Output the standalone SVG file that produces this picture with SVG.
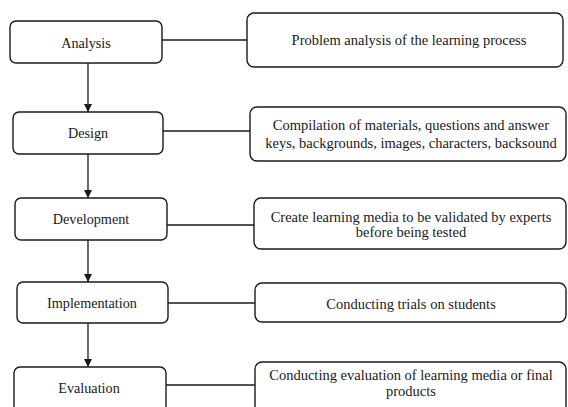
<svg xmlns="http://www.w3.org/2000/svg" width="568" height="407" viewBox="0 0 568 407">
<style>
.box{fill:#fff;stroke:#1a1a1a;stroke-width:1.4}
.ln{stroke:#1a1a1a;stroke-width:1.3;fill:none}
text{font-family:"Liberation Serif","Times New Roman",serif;font-size:14.5px;fill:#1a1a1a;text-anchor:middle}
text.lbl{font-size:14.2px}
</style>
<defs>
<marker id="ah" viewBox="0 0 10 10" refX="10" refY="5" markerWidth="8" markerHeight="8" markerUnits="userSpaceOnUse" orient="auto">
<path d="M0,0 L10,5 L0,10 Z" fill="#1a1a1a"/>
</marker>
</defs>
<g id="connectors">
<line class="ln" x1="88" y1="63" x2="88" y2="112" marker-end="url(#ah)"/>
<line class="ln" x1="88" y1="154" x2="88" y2="198" marker-end="url(#ah)"/>
<line class="ln" x1="88" y1="240" x2="88" y2="282" marker-end="url(#ah)"/>
<line class="ln" x1="88" y1="323" x2="88" y2="367" marker-end="url(#ah)"/>
<line class="ln" x1="162" y1="40" x2="247" y2="40"/>
<line class="ln" x1="163" y1="131" x2="250" y2="131"/>
<line class="ln" x1="167" y1="225" x2="254" y2="225"/>
<line class="ln" x1="168" y1="303" x2="255" y2="303"/>
<line class="ln" x1="166" y1="385" x2="255" y2="385"/>
</g>
<g id="analysis"><rect class="box" x="10" y="21" width="152" height="42" rx="6"/><text class="lbl" x="86" y="48">Analysis</text></g>
<g id="design"><rect class="box" x="13" y="112" width="150" height="42" rx="6"/><text class="lbl" x="88" y="138">Design</text></g>
<g id="development"><rect class="box" x="15" y="198" width="152" height="42" rx="6"/><text class="lbl" x="91" y="224">Development</text></g>
<g id="implementation"><rect class="box" x="17" y="282" width="151" height="41" rx="6"/><text class="lbl" x="92" y="308">Implementation</text></g>
<g id="evaluation"><rect class="box" x="14" y="367" width="152" height="48" rx="6"/><text class="lbl" x="89" y="393">Evaluation</text></g>
<g id="analysis-desc"><rect class="box" x="247" y="13" width="316" height="54" rx="7"/><text x="409" y="45">Problem analysis of the learning process</text></g>
<g id="design-desc"><rect class="box" x="250" y="107" width="316" height="54" rx="7"/><text x="411" y="130">Compilation of materials, questions and answer</text><text x="411" y="148">keys, backgrounds, images, characters, backsound</text></g>
<g id="development-desc"><rect class="box" x="254" y="198" width="312" height="51" rx="7"/><text x="411" y="222">Create learning media to be validated by experts</text><text x="411" y="237">before being tested</text></g>
<g id="implementation-desc"><rect class="box" x="255" y="283" width="311" height="39" rx="7"/><text x="411" y="309">Conducting trials on students</text></g>
<g id="evaluation-desc"><rect class="box" x="255" y="362" width="311" height="54" rx="7"/><text x="411" y="380">Conducting evaluation of learning media or final</text><text x="411" y="396">products</text></g>
</svg>
